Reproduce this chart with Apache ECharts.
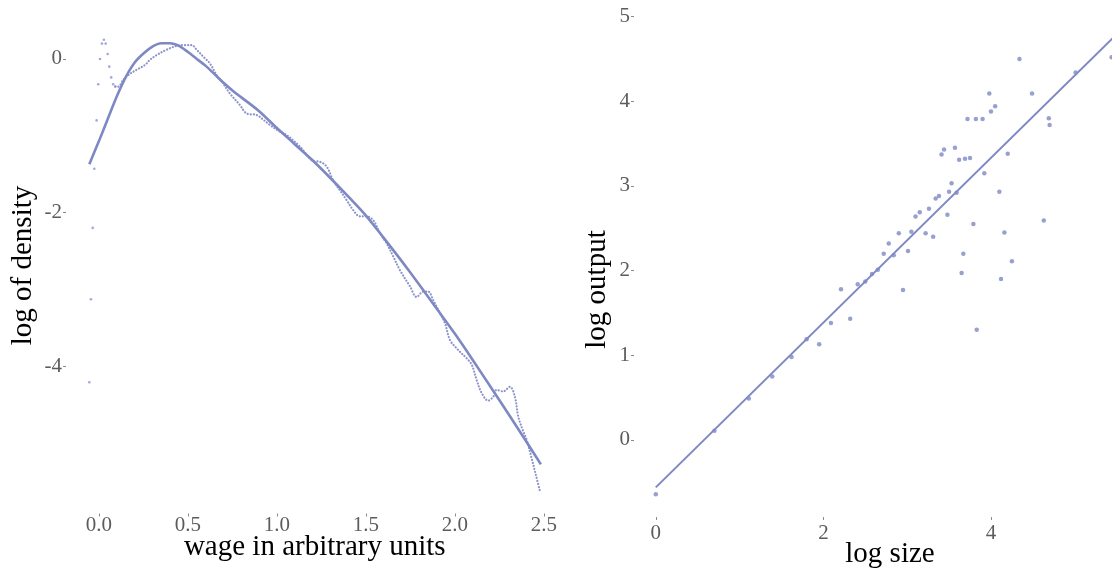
<!DOCTYPE html>
<html>
<head>
<meta charset="utf-8">
<script src="https://cdn.jsdelivr.net/npm/echarts@6/dist/echarts.min.js"></script>
<style>html,body{margin:0;padding:0;background:#fff;}#c{width:1112px;height:573px;}</style>
</head>
<body>
<div id="c"></div>
<script>
// ---- Left panel: log density of wages ----
const fitX = [-0.054, 0.0, 0.05, 0.10, 0.15, 0.20, 0.25, 0.30, 0.35, 0.40, 0.45, 0.50, 0.55, 0.60, 0.65, 0.70, 0.75, 0.80, 0.9, 1.0, 1.1, 1.2, 1.3, 1.4, 1.5, 1.6, 1.7, 1.8, 1.9, 2.0, 2.1, 2.2, 2.3, 2.4, 2.483];
const fitY = [-1.37, -1.07, -0.78, -0.49, -0.24, -0.05, 0.07, 0.16, 0.205, 0.205, 0.17, 0.09, 0.0, -0.09, -0.20, -0.31, -0.41, -0.50, -0.68, -0.90, -1.11, -1.32, -1.55, -1.79, -2.04, -2.33, -2.63, -2.94, -3.26, -3.58, -3.92, -4.27, -4.62, -4.98, -5.28];

// raw estimate near the left boundary (isolated dots)
const edgeX = [-0.054, -0.045, -0.035, -0.026, -0.013, -0.004, 0.006, 0.017, 0.028, 0.038, 0.049, 0.058, 0.069, 0.080, 0.092];
const edgeY = [-4.21, -3.13, -2.20, -1.43, -0.80, -0.33, 0.00, 0.20, 0.25, 0.20, 0.065, -0.10, -0.24, -0.33, -0.36];

// raw estimate (dotted curve)
const kdeX = [0.092, 0.108, 0.137, 0.165, 0.212, 0.258, 0.287, 0.324, 0.380, 0.437, 0.474, 0.521, 0.549, 0.586, 0.624, 0.661, 0.698, 0.736, 0.792, 0.830, 0.886, 0.923, 0.961, 1.017, 1.054, 1.129, 1.204, 1.242, 1.279, 1.316, 1.354, 1.392, 1.429, 1.466, 1.504, 1.541, 1.579, 1.616, 1.653, 1.691, 1.747, 1.785, 1.822, 1.850, 1.878, 1.916, 1.944, 1.972, 2.010, 2.066, 2.094, 2.122, 2.150, 2.187, 2.215, 2.234, 2.271, 2.309, 2.337, 2.356, 2.384, 2.403, 2.431, 2.455, 2.478];
const kdeY = [-0.36, -0.36, -0.27, -0.21, -0.14, -0.08, -0.01, 0.05, 0.12, 0.17, 0.18, 0.18, 0.12, 0.03, -0.06, -0.21, -0.32, -0.45, -0.60, -0.71, -0.73, -0.79, -0.86, -0.947, -0.99, -1.14, -1.33, -1.34, -1.40, -1.58, -1.71, -1.84, -1.97, -2.05, -2.05, -2.10, -2.27, -2.40, -2.57, -2.75, -2.96, -3.10, -3.03, -3.03, -3.14, -3.31, -3.44, -3.66, -3.77, -3.90, -3.98, -4.18, -4.35, -4.45, -4.40, -4.31, -4.33, -4.27, -4.40, -4.66, -4.85, -4.96, -5.20, -5.42, -5.63];

const leftXTicks = [0, 0.5, 1.0, 1.5, 2.0, 2.5];
const leftYTicks = [0, -2, -4];

// ---- Right panel: log output vs log size ----
const logSize = [0.0, 0.70, 1.11, 1.39, 1.62, 1.80, 1.95, 2.09, 2.21, 2.32, 2.41, 2.50, 2.58, 2.65, 2.72, 2.78, 2.84, 2.90, 2.95, 3.01, 3.05, 3.10, 3.15, 3.22, 3.26, 3.31, 3.34, 3.38, 3.41, 3.44, 3.48, 3.50, 3.53, 3.57, 3.59, 3.62, 3.65, 3.67, 3.69, 3.72, 3.75, 3.79, 3.82, 3.83, 3.90, 3.92, 3.98, 4.00, 4.05, 4.10, 4.12, 4.16, 4.20, 4.25, 4.34, 4.49, 4.63, 4.69, 4.70, 5.01, 5.44];
const logOutput = [-0.64, 0.11, 0.49, 0.75, 0.98, 1.19, 1.13, 1.38, 1.78, 1.43, 1.84, 1.87, 1.96, 2.01, 2.20, 2.32, 2.18, 2.44, 1.77, 2.23, 2.46, 2.64, 2.69, 2.44, 2.73, 2.40, 2.85, 2.88, 3.37, 3.43, 2.66, 2.93, 3.03, 3.45, 2.92, 3.31, 1.97, 2.20, 3.32, 3.79, 3.33, 2.55, 3.79, 1.30, 3.79, 3.15, 4.09, 3.88, 3.94, 2.93, 1.90, 2.45, 3.38, 2.11, 4.50, 4.09, 2.59, 3.80, 3.72, 4.34, 4.52];
const lineSize = [0.0, 5.85];
const lineOutput = [-0.56, 5.13];

const rightXTicks = [0, 2, 4];
const rightYTicks = [0, 1, 2, 3, 4, 5];

const zip = (a, b) => a.map((v, i) => [v, b[i]]);
const FONT = 'Liberation Serif';
const MAIN = '#7e88c3';
const DOT = '#8c94cd';

function axisCommon(ticks, fmt) {
  return {
    type: 'value',
    axisLine: { show: false, onZero: false },
    splitLine: { show: false },
    axisTick: { show: true, customValues: ticks, length: 3, lineStyle: { color: '#8a8a8a', width: 1 } },
    axisLabel: { customValues: ticks, formatter: fmt, fontFamily: FONT, fontSize: 21, color: '#5c5c5c' },
    nameLocation: 'middle',
    nameMoveOverlap: false,
    nameTextStyle: { fontFamily: FONT, fontSize: 29, color: '#000' }
  };
}

const chart = echarts.init(document.getElementById('c'), null, { renderer: 'canvas' });
const xL = axisCommon(leftXTicks, v => v.toFixed(1));
Object.assign(xL, { gridIndex: 0, min: -0.185, max: 2.61, name: 'wage in arbitrary units', nameGap: 19 });
xL.axisLabel.margin = 1;
const yL = axisCommon(leftYTicks, v => String(v));
Object.assign(yL, { gridIndex: 0, min: -5.92, max: 0.54, name: 'log of density', nameGap: 28 });
yL.axisLabel.margin = 4;
const xR = axisCommon(rightXTicks, v => String(v));
Object.assign(xR, { gridIndex: 1, min: -0.26, max: 5.85, name: 'log size', nameGap: 23 });
xR.axisLabel.margin = 6;
const yR = axisCommon(rightYTicks, v => String(v));
Object.assign(yR, { gridIndex: 1, min: -0.91, max: 5.03, name: 'log output', nameGap: 22 });
yR.axisLabel.margin = 4;
yR.nameTextStyle = Object.assign({}, yR.nameTextStyle, { padding: [0, 48, 0, 0] });

chart.setOption({
  animation: false,
  backgroundColor: '#ffffff',
  grid: [
    { left: 66, top: 17.5, width: 497.5, height: 496, containLabel: false, outerBoundsMode: 'none' },
    { left: 634, top: 14, width: 512, height: 503, containLabel: false, outerBoundsMode: 'none' }
  ],
  xAxis: [xL, xR],
  yAxis: [yL, yR],
  series: [
    { type: 'scatter', xAxisIndex: 0, yAxisIndex: 0, data: zip(edgeX, edgeY), symbolSize: 2.6,
      itemStyle: { color: DOT }, silent: true },
    { type: 'line', xAxisIndex: 0, yAxisIndex: 0, data: zip(kdeX, kdeY), smooth: 0.35, showSymbol: false,
      lineStyle: { color: DOT, width: 2.2, type: [0.1, 3], cap: 'round' }, silent: true },
    { type: 'line', xAxisIndex: 0, yAxisIndex: 0, data: zip(fitX, fitY), smooth: 0.3, showSymbol: false,
      lineStyle: { color: MAIN, width: 2.6 }, silent: true },
    { type: 'scatter', xAxisIndex: 1, yAxisIndex: 1, data: zip(logSize, logOutput), symbolSize: 4.5,
      itemStyle: { color: MAIN }, silent: true },
    { type: 'line', xAxisIndex: 1, yAxisIndex: 1, data: zip(lineSize, lineOutput), showSymbol: false,
      lineStyle: { color: MAIN, width: 2 }, silent: true }
  ]
});
</script>
</body>
</html>
